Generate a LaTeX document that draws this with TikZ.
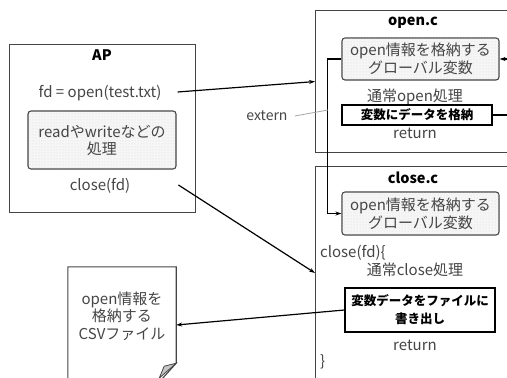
\documentclass[tikz,border=0pt]{standalone}
\usepackage{fontspec}
\setmainfont{Noto Sans CJK JP}
\usetikzlibrary{patterns,arrows.meta}
\definecolor{ink}{HTML}{454545}
\tikzset{
  txt/.style={text=ink, font=\fontsize{15}{17.5}\selectfont, inner sep=0pt, align=center},
  ttl/.style={text=black, font=\fontsize{14.5}{17}\selectfont\bfseries, inner sep=0pt},
  frame/.style={draw=ink, line width=1.1pt, anchor=north west, inner sep=0pt},
  gvar/.style={draw=ink, line width=1.1pt, rounded corners=3pt, fill=gray!7,
    postaction={pattern=dots, pattern color=gray!30},
    minimum width=157pt, minimum height=42pt, inner sep=0pt, text=ink,
    font=\fontsize{15}{18}\selectfont, align=center},
  actbox/.style={draw=black, line width=1.1pt, inner sep=0pt, align=center,
    font=\fontsize{12.5}{18}\selectfont\bfseries},
  conn/.style={line width=1.2pt, black},
  arr/.style={conn, -{Stealth[length=6pt,width=4pt]}},
}
\begin{document}
\begin{tikzpicture}[x=1pt,y=-1pt]
\clip (0,0) rectangle (507,378);
\fill[white] (0,0) rectangle (507,378);

% application
\node[frame, minimum width=186pt, minimum height=168pt] (ap) at (9,44) {};
\node[ttl] (aptitle) at (102,55) {AP};
\node[txt] (apopen) at (100,93) {fd = open(test.txt)};
\node[gvar, minimum width=148pt, minimum height=58pt, font=\fontsize{15}{17}\selectfont] (aprw) at (102,140) {readやwriteなどの\\処理};
\node[txt] (apclose) at (100,186) {close(fd)};

% open.c
\node[frame, minimum width=200pt, minimum height=142pt] (openc) at (315,10) {};
\node[ttl] (opentitle) at (413,23) {open.c};
\node[gvar] (ogv) at (420.5,59) {open情報を格納する\\グローバル変数};
\node[txt] (openproc) at (415,97) {通常open処理};
\node[actbox, minimum width=150pt, minimum height=20pt] (store) at (417,115) {変数にデータを格納};
\node[txt] (openret) at (415,133) {return};

% close.c
\node[frame, minimum width=200pt, minimum height=214pt] (closec) at (315,166) {};
\node[ttl] (closetitle) at (413,178) {close.c};
\node[gvar, minimum height=43pt] (cgv) at (420.5,213.5) {open情報を格納する\\グローバル変数};
\node[txt, anchor=west] (closehead) at (320,253) {close(fd)\{};
\node[txt] (closeproc) at (415,270) {通常close処理};
\node[actbox, minimum width=150pt, minimum height=44pt] (wr) at (420,310) {変数データをファイルに\\書き出し};
\node[txt] (closeret) at (415,345) {return};
\node[txt, anchor=west] (closetail) at (320,362) {\}};

% CSV file with a curled corner
\node[minimum width=108pt, minimum height=116pt, inner sep=0pt] (csv) at (122,325) {};
\draw[ink, line width=1.1pt, fill=white]
  (csv.north west) -- (csv.north east) -- ([yshift=20pt]csv.south east)
  -- ([xshift=-18pt]csv.south east) -- (csv.south west) -- cycle;
\filldraw[ink, fill=gray!45, line width=0.8pt]
  ([yshift=20pt]csv.south east) -- ([xshift=-12pt,yshift=17pt]csv.south east)
  -- ([xshift=-17pt,yshift=5pt]csv.south east) -- cycle;
\node[txt] (csvtext) at (122,316) {open情報を\\格納する\\CSVファイル};

% connectors
\coordinate (inR) at (515,59);
\coordinate (outR) at (515,115);
\draw[arr] ([xshift=16pt,yshift=1pt]apopen.east) -- (openc.west);
\draw[arr] ([xshift=48pt,yshift=1pt]apclose.east) -- ([yshift=-107pt]closec.north west);
\draw[arr] (inR) -- (ogv.east);
\draw[conn] (store.east) -- (outR);
\draw[arr] (ogv.west) -- ++(-14,0) coordinate (bend) |- (cgv.west);
\draw[arr] (wr.west) -- (csv.east);

% extern label with leader
\node[txt, font=\fontsize{14}{17}\selectfont] (ext) at (267,116) {extern};
\coordinate (extpt) at (328,110);
\draw[gray!70, line width=0.8pt] ([xshift=7pt]ext.east) -- (extpt);
\end{tikzpicture}
\end{document}
